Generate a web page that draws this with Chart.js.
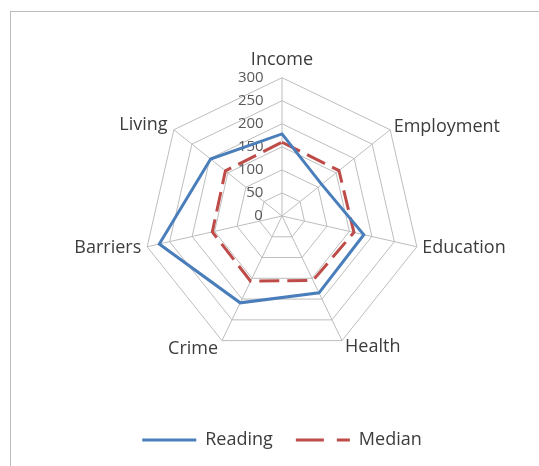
<!DOCTYPE html>
<html>
<head>
<meta charset="utf-8">
<script src="https://cdn.jsdelivr.net/npm/chart.js@4.4.1/dist/chart.umd.min.js"></script>
<style>
  html, body { margin: 0; padding: 0; background: #fff; }
  body { width: 539px; height: 466px; position: relative; overflow: hidden; }
  .frame { position: absolute; left: 10px; top: 11px; width: 560px; height: 500px; border: 1px solid #bcbcbc; }
  #chartWrap { position: absolute; left: 0; top: 0; width: 539px; height: 466px; }
</style>
</head>
<body>
<div class="frame"></div>
<div id="chartWrap"><canvas id="radar" width="539" height="466"></canvas></div>
<script>
const categories = ['Income', 'Employment', 'Education', 'Health', 'Crime', 'Barriers', 'Living'];
const readingValues = [178, 110, 182, 185, 209, 273, 198];
const medianValues = [160, 158, 160, 155, 157, 155, 157];
const tickValues = [0, 50, 100, 150, 200, 250, 300];

// extra gap between each spoke end and its label (Excel puts them a bit unevenly)
const labelPadding = [10.5, -3, -2, -0.5, 1.5, -1.5, 0.5];

const tickFont = { family: 'Open Sans', size: 15 };
const measureCtx = document.createElement('canvas').getContext('2d');
measureCtx.font = tickFont.size + 'px "' + tickFont.family + '"';

// ticks are drawn centred on the axis, so pad with spaces to push them left of it
function tickLabel(value) {
    const text = String(Math.round(value));
    const w = measureCtx.measureText(text).width;
    const space = measureCtx.measureText(' ').width;
    const n = Math.round((w + 2 * 19) / space);
    return text + ' '.repeat(n);
}

const ctx = document.getElementById('radar').getContext('2d');
new Chart(ctx, {
    type: 'radar',
    data: {
        labels: categories,
        datasets: [
            {
                label: 'Reading',
                data: readingValues,
                borderColor: '#4a7ebb',
                borderWidth: 3,
                fill: false,
                pointRadius: 0,
                pointHoverRadius: 0
            },
            {
                label: 'Median',
                data: medianValues,
                borderColor: '#be4b48',
                borderWidth: 3,
                borderDash: [20, 8],
                fill: false,
                pointRadius: 0,
                pointHoverRadius: 0
            }
        ]
    },
    options: {
        responsive: false,
        devicePixelRatio: 1,
        animation: false,
        layout: {
            padding: { left: 27, right: 2, top: 54.5, bottom: 7 }
        },
        scales: {
            r: {
                min: tickValues[0] - 0.01, // keeps the 0 label (first tick is skipped when min >= 0)
                max: tickValues[tickValues.length - 1],
                ticks: {
                    stepSize: tickValues[1] - tickValues[0],
                    showLabelBackdrop: false,
                    backdropPadding: 0,
                    color: '#595959',
                    font: tickFont,
                    callback: tickLabel
                },
                grid: { color: '#bdbdbd', lineWidth: 1 },
                angleLines: { color: '#bdbdbd', lineWidth: 1 },
                pointLabels: {
                    color: '#3c3c3c',
                    font: { family: 'Open Sans', size: 18, lineHeight: 0.01 },
                    padding: (c) => labelPadding[c.index]
                }
            }
        },
        plugins: {
            tooltip: { enabled: false },
            legend: {
                position: 'bottom',
                title: {
                    display: true,
                    text: '',
                    font: { size: 10, lineHeight: 1 },
                    padding: { top: 30.5, bottom: 0 }
                },
                labels: {
                    usePointStyle: true,
                    pointStyle: 'line',
                    pointStyleWidth: 54,
                    padding: 23,
                    color: '#3c3c3c',
                    font: { family: 'Open Sans', size: 18 },
                    generateLabels: (chart) => {
                        const items = Chart.defaults.plugins.legend.labels.generateLabels(chart);
                        items.forEach(item => {
                            const ds = chart.data.datasets[item.datasetIndex];
                            item.strokeStyle = ds.borderColor;
                            item.lineWidth = ds.borderWidth;
                            item.lineDash = ds.borderDash ? [28, 13] : [];
                        });
                        return items;
                    }
                }
            }
        }
    }
});
</script>
</body>
</html>
